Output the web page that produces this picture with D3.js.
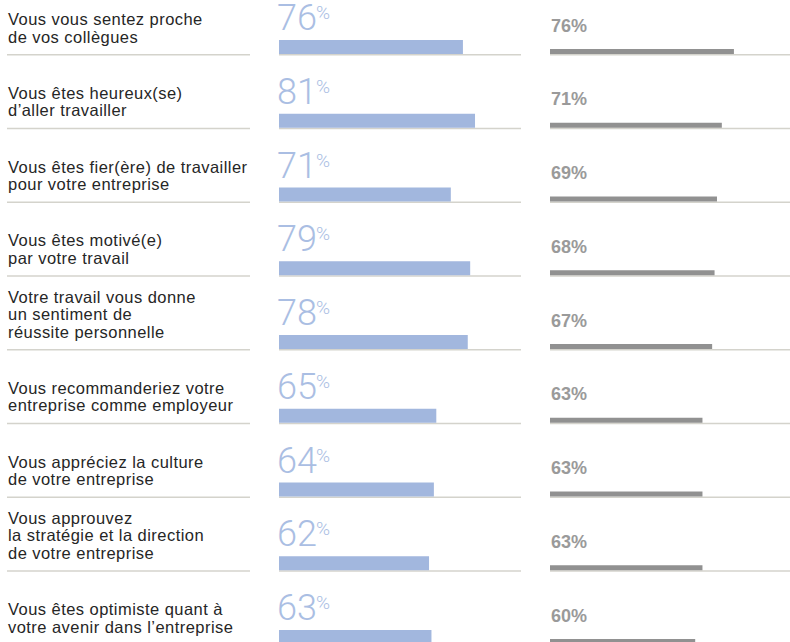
<!DOCTYPE html>
<html lang="fr">
<head>
<meta charset="utf-8">
<script src="https://cdn.jsdelivr.net/npm/d3@7"></script>
<style>
  html, body { margin: 0; padding: 0; background: #fff; }
  svg { display: block; }
</style>
</head>
<body>
<svg id="chart" width="790" height="642"></svg>
<script>
// Statements (each entry is the list of lines of its label)
const statements = [
  ["Vous vous sentez proche", "de vos collègues"],
  ["Vous êtes heureux(se)", "d’aller travailler"],
  ["Vous êtes fier(ère) de travailler", "pour votre entreprise"],
  ["Vous êtes motivé(e)", "par votre travail"],
  ["Votre travail vous donne", "un sentiment de", "réussite personnelle"],
  ["Vous recommanderiez votre", "entreprise comme employeur"],
  ["Vous appréciez la culture", "de votre entreprise"],
  ["Vous approuvez", "la stratégie et la direction", "de votre entreprise"],
  ["Vous êtes optimiste quant à", "votre avenir dans l’entreprise"]
];
// Share of agreement (%) – highlighted series and comparison series
const primaryValues = [76, 81, 71, 79, 78, 65, 64, 62, 63];
const compareValues = [76, 71, 69, 68, 67, 63, 63, 63, 60];

const svg = d3.select("#chart");

// Row baseline (bottom of the bars / divider position)
const yRow = d3.scaleLinear().domain([0, statements.length - 1]).range([54, 644]);

// Horizontal value scales for both columns
const xPrimary = d3.scaleLinear().domain([0, 100]).range([279, 521]);
const xCompare = d3.scaleLinear().domain([0, 100]).range([550, 792]);

const rows = svg.selectAll("g.row")
  .data(statements.map((lines, i) => ({ lines, p: primaryValues[i], c: compareValues[i], i })))
  .join("g")
  .attr("class", "row")
  .attr("transform", d => `translate(0,${yRow(d.i)})`);

// Divider lines
const divColor = "#d4d3cc";
rows.append("line")
  .attr("x1", 7).attr("x2", 250).attr("y1", 0.75).attr("y2", 0.75)
  .attr("stroke", divColor).attr("stroke-width", 1.5);
rows.append("line")
  .attr("x1", xPrimary(0)).attr("x2", xPrimary(100)).attr("y1", 0.75).attr("y2", 0.75)
  .attr("stroke", divColor).attr("stroke-width", 1.5);
rows.append("line")
  .attr("x1", xCompare(0)).attr("x2", 790).attr("y1", 0.75).attr("y2", 0.75)
  .attr("stroke", divColor).attr("stroke-width", 1.5);

// Statement labels, anchored from the bottom line upward
const lineH = 17.5;
rows.append("text")
  .attr("font-family", "'Liberation Sans', Arial, Helvetica, sans-serif")
  .attr("font-size", 16.5)
  .attr("letter-spacing", 0.45)
  .attr("fill", "#262626")
  .selectAll("tspan")
  .data(d => d.lines.map((t, k) => ({ t, k, n: d.lines.length })))
  .join("tspan")
  .attr("x", 8)
  .attr("y", l => -11.5 - (l.n - 1 - l.k) * lineH)
  .text(l => l.t);

// Highlighted bars
rows.append("rect")
  .attr("x", xPrimary(0))
  .attr("y", -14)
  .attr("width", d => xPrimary(d.p) - xPrimary(0))
  .attr("height", 14)
  .attr("fill", "#a2b7de");

// Large light value labels with a raised percent sign
const big = rows.append("text")
  .attr("x", xPrimary(0) - 2)
  .attr("y", -24)
  .attr("font-family", "Roboto, Inter, Lato, sans-serif")
  .attr("font-weight", 300)
  .attr("fill", "#aabee3");
big.append("tspan").attr("font-size", 36).text(d => d.p);
big.append("tspan").attr("font-size", 19).attr("dx", -1).attr("dy", -11).text("%");

// Comparison bars
rows.append("rect")
  .attr("x", xCompare(0))
  .attr("y", -5)
  .attr("width", d => xCompare(d.c) - xCompare(0))
  .attr("height", 5)
  .attr("fill", "#919191");

// Comparison value labels
rows.append("text")
  .attr("x", xCompare(0) + 1)
  .attr("y", -22.3)
  .attr("font-family", "'Liberation Sans', Arial, Helvetica, sans-serif")
  .attr("font-size", 18)
  .attr("font-weight", "bold")
  .attr("fill", "#9a9a9a")
  .text(d => d.c + "%");
</script>
</body>
</html>
